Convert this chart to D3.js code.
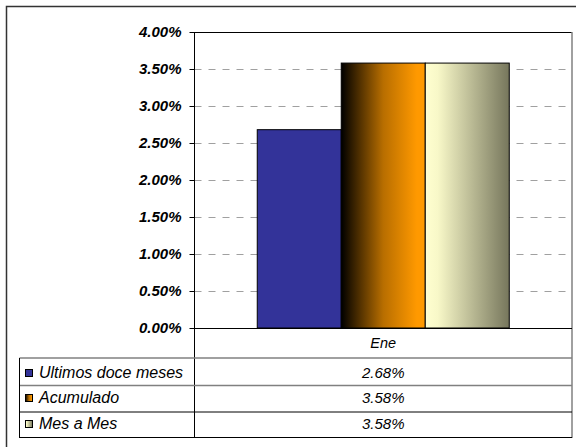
<!DOCTYPE html>
<html><head><meta charset="utf-8">
<script src="https://cdn.jsdelivr.net/npm/d3@7"></script>
<style>body{margin:0;background:#fff}svg{display:block}</style>
</head><body>
<script>
const categories = ["Ene"];
const seriesNames = ["Ultimos doce meses", "Acumulado", "Mes a Mes"];
const values = [2.68, 3.58, 3.58];
const valueLabels = ["2.68%", "3.58%", "3.58%"];
const yTicks = [0, 0.5, 1, 1.5, 2, 2.5, 3, 3.5, 4];

(function(){
const W = 576, H = 447;
const svg = d3.select("body").append("svg").attr("width", W).attr("height", H);
const defs = svg.append("defs");
const g1 = defs.append("linearGradient").attr("id","gOrange").attr("x1","0").attr("x2","1").attr("y1","0").attr("y2","0");
g1.append("stop").attr("offset","0").attr("stop-color","#000000");
g1.append("stop").attr("offset","0.5").attr("stop-color","#b86e00");
g1.append("stop").attr("offset","0.9").attr("stop-color","#ff9900");
g1.append("stop").attr("offset","1").attr("stop-color","#ff9900");
const g2 = defs.append("linearGradient").attr("id","gBeige").attr("x1","0").attr("x2","1").attr("y1","0").attr("y2","0");
g2.append("stop").attr("offset","0").attr("stop-color","#ffffd0");
g2.append("stop").attr("offset","0.15").attr("stop-color","#f8f8c8");
g2.append("stop").attr("offset","1").attr("stop-color","#76765c");
const fills = ["#333399", "url(#gOrange)", "url(#gBeige)"];

// outer frame
svg.append("rect").attr("x",6.5).attr("y",6.5).attr("width",W+10).attr("height",H+10)
  .attr("fill","none").attr("stroke","#333").attr("stroke-width",1.5);

const pLeft = 194.5, pRight = 572, pTop = 32, pBottom = 328;
const y = d3.scaleLinear().domain([0,4]).range([pBottom, pTop]);
const x0 = d3.scaleBand().domain(categories).range([pLeft, pRight]);
const x1 = d3.scaleBand().domain(seriesNames)
  .range([x0.bandwidth()/2 - 126, x0.bandwidth()/2 + 126]).paddingOuter(0).paddingInner(0);

// gridlines
svg.append("g").selectAll("line").data(yTicks.filter(d => d > 0 && d < 4)).join("line")
  .attr("x1", pLeft).attr("x2", pRight).attr("y1", d => Math.round(y(d))+0.5).attr("y2", d => Math.round(y(d))+0.5)
  .attr("stroke","#a0a0a0").attr("stroke-dasharray","7,7");

// plot border top and right
svg.append("line").attr("x1",pLeft).attr("x2",pRight).attr("y1",pTop+0.5).attr("y2",pTop+0.5).attr("stroke","#000");
svg.append("line").attr("x1",pRight).attr("x2",pRight).attr("y1",pTop).attr("y2",438).attr("stroke","#808080").attr("stroke-width",1.5);

// bars
const cg = svg.append("g").attr("transform",`translate(${x0(categories[0])},0)`);
cg.selectAll("rect").data(values).join("rect")
  .attr("x", (d,i) => x1(seriesNames[i]))
  .attr("width", x1.bandwidth())
  .attr("y", d => y(d))
  .attr("height", d => y(0) - y(d))
  .attr("fill", (d,i) => fills[i])
  .attr("stroke","#000").attr("stroke-width",1);

const font = "Liberation Sans, Arial, sans-serif";
// y axis
const yAxis = d3.axisLeft(y).tickValues(yTicks).tickFormat(d => d.toFixed(2) + "%").tickSize(5).tickPadding(8);
const ya = svg.append("g").attr("transform",`translate(${pLeft},0)`).call(yAxis);
ya.select(".domain").remove();
ya.selectAll(".tick line").attr("stroke","#000");
ya.selectAll("text").attr("font-family",font).attr("font-size",15)
  .attr("font-weight","bold").attr("font-style","italic").attr("fill","#000");
svg.append("line").attr("x1",pLeft).attr("x2",pLeft).attr("y1",pTop).attr("y2",438).attr("stroke","#000");
svg.append("line").attr("x1",pLeft).attr("x2",pRight).attr("y1",pBottom+0.5).attr("y2",pBottom+0.5).attr("stroke","#000");

// data table
const tLeft = 19.5;
const rowY = [328, 358, 385.5, 412, 437.5];
const rowStroke = ["#000","#808080","#808080","#000","#000"];
rowY.forEach((ry,i) => {
  if (i === 0) return;
  svg.append("line").attr("x1", tLeft).attr("x2", pRight).attr("y1", ry).attr("y2", ry)
    .attr("stroke", rowStroke[i]).attr("stroke-width", (i===1||i===2)?1.5:1);
});
svg.append("line").attr("x1",tLeft).attr("x2",tLeft).attr("y1",358).attr("y2",438).attr("stroke","#000");

svg.append("text").attr("x", x0(categories[0]) + x0.bandwidth()/2).attr("y", 347.5)
  .attr("text-anchor","middle").attr("font-family",font).attr("font-size",14.5).attr("font-style","italic").text(categories[0]);
const baselines = [377.7, 402.7, 429];
seriesNames.forEach((s,i) => {
  svg.append("rect").attr("x",25.5).attr("y",Math.round(baselines[i]) - 8.5).attr("width",7).attr("height",7)
    .attr("fill",fills[i]).attr("stroke","#000").attr("stroke-width",1);
  svg.append("text").attr("x",39).attr("y",baselines[i]).attr("font-family",font).attr("font-size",16)
    .attr("font-style","italic").text(s);
  svg.append("text").attr("x", x0(categories[0]) + x0.bandwidth()/2).attr("y", baselines[i])
    .attr("text-anchor","middle").attr("font-family",font).attr("font-size",15).attr("font-style","italic").text(valueLabels[i]);
});
})();
</script>
</body></html>
